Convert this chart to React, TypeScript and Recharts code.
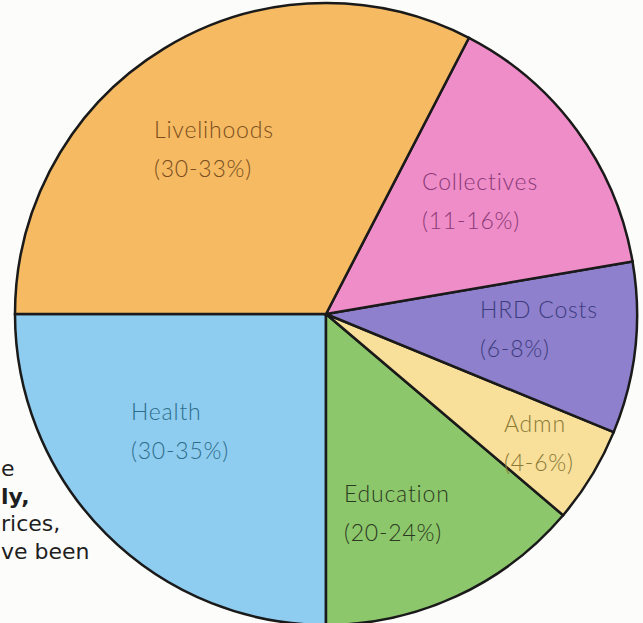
import { PieChart, Pie, Cell } from "recharts";

const NAMES = ["Health", "Education", "Admn", "HRD Costs", "Collectives", "Livelihoods"];
const RANGES = ["(30-35%)", "(20-24%)", "(4-6%)", "(6-8%)", "(11-16%)", "(30-33%)"];
// share of the circle each slice takes
const SHARES = [25, 13.8, 5.0, 8.9, 14.7, 32.6];

const FILLS = ["#8ecdf0", "#8dc76b", "#f8df9a", "#8e80cc", "#ef8dc8", "#f5ba62"];
const INKS = ["#2f6d8c", "#2b3a22", "#8a7a36", "#3d3d7e", "#8a3a78", "#7a4e1e"];
// label placement relative to the centre
const SPOTS = [
  { dx: -195, dy: 106 },
  { dx: 18, dy: 188 },
  { dx: 178, dy: 118 },
  { dx: 154, dy: 4 },
  { dx: 96, dy: -124 },
  { dx: -172, dy: -176 },
];

const BEHIND = ["e", "ly,", "rices,", "ve been"];

const data = NAMES.map((name, i) => ({ name, range: RANGES[i], value: SHARES[i] }));

const renderLabel = (props: any) => {
  const { cx, cy, index } = props;
  const spot = SPOTS[index];
  const x = cx + spot.dx;
  const y = cy + spot.dy;
  return (
    <text
      x={x}
      y={y}
      fill={INKS[index]}
      fontFamily="Lato, sans-serif"
      fontWeight={300}
      fontSize={23}
      letterSpacing={0.8}
      textAnchor="start"
    >
      <tspan x={x} y={y}>{data[index].name}</tspan>
      <tspan x={x} y={y + 39}>{data[index].range}</tspan>
    </text>
  );
};

export default function App() {
  return (
    <div
      style={{
        position: "absolute",
        left: 0,
        top: 0,
        width: 643,
        height: 623,
        overflow: "hidden",
        background: "#fcfcfa",
      }}
    >
      <div
        style={{
          position: "absolute",
          left: 1,
          top: 455,
          fontFamily: "'DejaVu Sans', sans-serif",
          fontSize: 22,
          lineHeight: "27.5px",
          color: "#1e1e1e",
        }}
      >
        {BEHIND.map((t, i) => (
          <div key={i} style={{ fontWeight: i === 1 ? 700 : 400 }}>{t}</div>
        ))}
      </div>
      <div style={{ position: "absolute", left: 0, top: 0 }}>
        <PieChart width={643} height={623} margin={{ top: 0, right: 0, bottom: 0, left: 0 }}>
          <Pie
            data={data}
            dataKey="value"
            nameKey="name"
            cx={326}
            cy={314}
            outerRadius={311}
            startAngle={180}
            endAngle={540}
            stroke="#1a1a1a"
            strokeWidth={2.5}
            labelLine={false}
            label={renderLabel}
            isAnimationActive={false}
          >
            {data.map((_, i) => (
              <Cell key={i} fill={FILLS[i]} />
            ))}
          </Pie>
        </PieChart>
      </div>
    </div>
  );
}
